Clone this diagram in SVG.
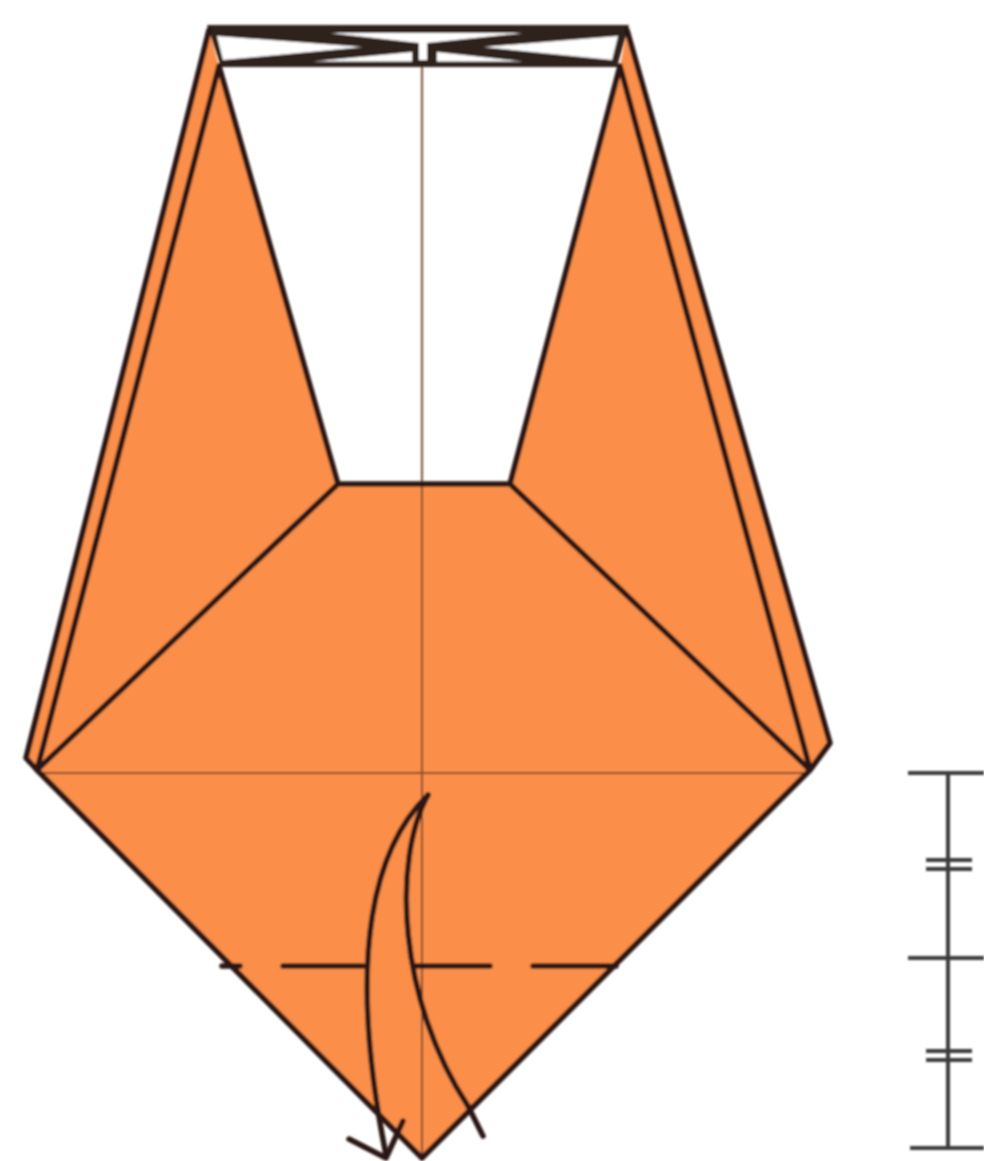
<svg xmlns="http://www.w3.org/2000/svg" width="984" height="1161" viewBox="0 0 984 1161">
<defs><filter id="soft" x="-5%" y="-5%" width="110%" height="110%"><feGaussianBlur stdDeviation="0.8"/></filter></defs>
<style>
.o{fill:#fb8f4a;stroke:none}
.k{fill:none;stroke:#2a1712;stroke-width:5.5;stroke-linejoin:round;stroke-linecap:round}
.d{fill:#2e211d}
.w{fill:#fff}
.m{fill:none;stroke:#3a3a3a;stroke-width:4}
.c{fill:none;stroke:#7d4a30;stroke-width:2}
</style>
<rect width="984" height="1161" fill="#fff"/>
<g filter="url(#soft)">
<g id="paper">
<path class="o" d="M209 30L219 66L338 484L510 484L620 66L627 30L830 743L810 770L422 1158L37 770L26 758Z"/>
</g>
<g id="creases">
<path class="c" d="M422 64V1158"/>
<path class="c" stroke-width="2.5" d="M37 773H810"/>
</g>
<g id="top-band">
<path class="d" d="M207 25H629L617 67H221Z"/>
<path class="w" d="M217 36L363 47L223 60Z"/>
<path class="w" d="M618 36L483 47L612 60Z"/>
<path class="w" d="M330 33H523L427 43V60H419V43Z"/>
<path class="w" d="M313 61.500L412 52V61.500Z"/>
<path class="w" d="M437 52L523 61.500H437Z"/>
</g>
<g id="outline">
<path class="k" d="M338 484H510M338 484L219 66M510 484L620 66M338 484L37 770M510 484L810 770M37 770L219 66M809 765L620 66M209 30L26 758L37 770M627 30L830 743L810 770M37 770L422 1158L810 770"/>
</g>
<g id="fold-line">
<path class="k" stroke-linecap="butt" d="M222 966H240M283 966H363M416 966H490M533 966H616"/>
</g>
<g id="connectors">
<path class="k" d="M428 795C376 845 345 950 386 1155"/>
<path class="k" d="M428 795C392 860 398 1000 468 1106"/>
<path class="k" d="M349 1139L386 1158L403 1121"/>
<path class="k" d="M468 1106L483 1136"/>
</g>
<g id="scale">
<path class="m" d="M948 773V1148"/>
<path class="m" d="M908 773H984M908 958H984M910 1148H984"/>
<path class="m" d="M926 860H972M926 869H972M926 1051H972M926 1060H972" stroke-width="4"/>
</g>
</g>
</svg>
